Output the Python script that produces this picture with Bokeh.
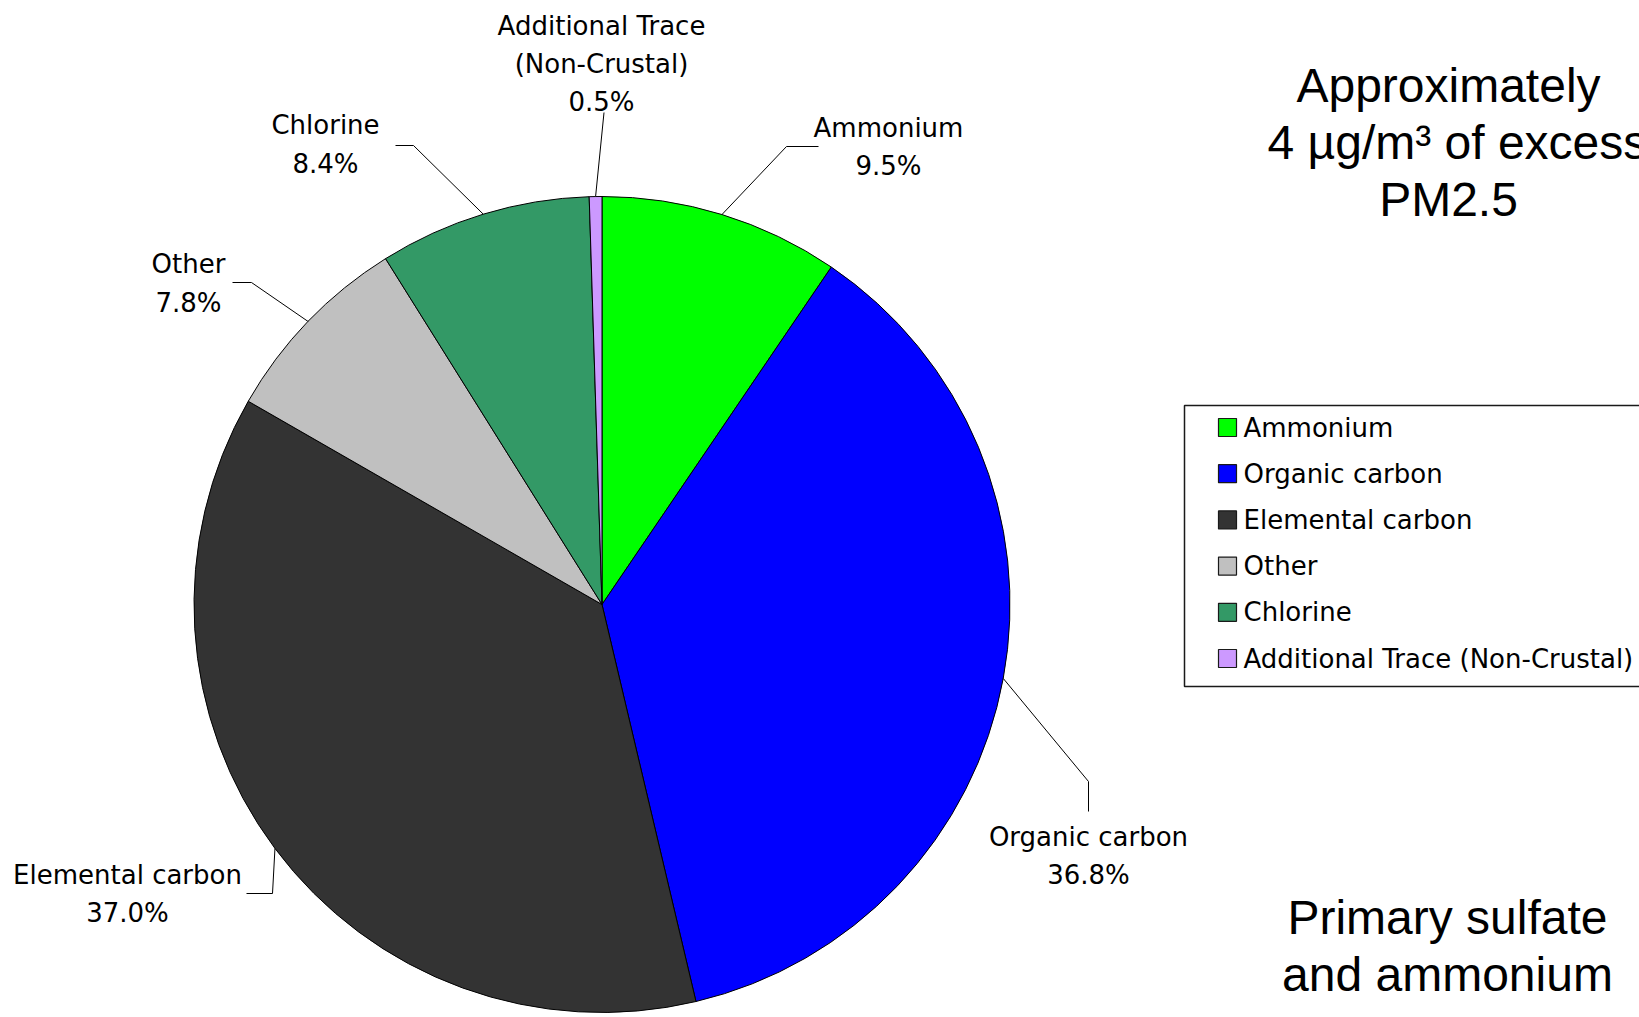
import math

from bokeh.core.properties import value
from bokeh.embed import file_html
from bokeh.models import Range1d
from bokeh.plotting import figure
from bokeh.resources import INLINE

# ---- data -------------------------------------------------------------
categories = ["Ammonium", "Organic carbon", "Elemental carbon", "Other",
              "Chlorine", "Additional Trace (Non-Crustal)"]
label_names = [["Ammonium"], ["Organic carbon"], ["Elemental carbon"], ["Other"],
               ["Chlorine"], ["Additional Trace", "(Non-Crustal)"]]
shares = [9.5, 36.8, 37.0, 7.8, 8.4, 0.5]          # percent of excess PM2.5
colors = ["#00FF00", "#0000FF", "#333333", "#C0C0C0", "#339966", "#CC99FF"]

title_lines = ["Approximately", "4 \u00b5g/m\u00b3 of excess", "PM2.5"]
note_lines = ["Primary sulfate", "and ammonium"]

# ---- canvas (1 data unit = 1 px, y measured upward) -------------------
W, H = 1639, 1017
p = figure(width=W, height=H, output_backend="svg", toolbar_location=None,
           x_range=Range1d(0, W), y_range=Range1d(0, H), min_border=0,
           x_axis_location=None, y_axis_location=None, outline_line_color=None,
           background_fill_color="white", border_fill_color="white")
p.grid.visible = False


def Y(px):
    return H - px


LABEL_FONT = value("DejaVu Sans")
BIG_FONT = value("Liberation Sans")

# ---- pie ----------------------------------------------------------------
cx, cy, R = 601.5, Y(604), 408
total = sum(shares)
starts, ends, mids = [], [], []
acc = 0.0
for s in shares:
    a0 = math.pi / 2 - 2 * math.pi * acc / total
    acc += s
    a1 = math.pi / 2 - 2 * math.pi * acc / total
    starts.append(a0)
    ends.append(a1)
    mids.append((a0 + a1) / 2)

p.wedge(x=[cx] * len(shares), y=[cy] * len(shares), radius=R,
        start_angle=starts, end_angle=ends, direction="clock",
        fill_color=colors, line_color="black", line_width=1)

# ---- slice labels with leader lines ------------------------------------
# leader: slice midpoint on the rim -> elbow -> end; text centre x and line centres
layout = [
    dict(elbow=(786, 146), end=(818, 146), tx=888, rows=(127.5, 165.5)),
    dict(elbow=(1088, 781), end=(1088, 811), tx=1088, rows=(836, 874)),
    dict(elbow=(272, 893), end=(246, 893), tx=127, rows=(874, 912)),
    dict(elbow=(251, 282), end=(232, 282), tx=188, rows=(263.5, 302)),
    dict(elbow=(413, 145), end=(395, 145), tx=325, rows=(124.5, 163)),
    dict(elbow=(603.5, 112), end=(603.5, 112), tx=601, rows=(25, 63.5, 101.5)),
]

xs, ys = [], []
tx, ty, tt = [], [], []
for names, s, m, lay in zip(label_names, shares, mids, layout):
    rx, ry = cx + R * math.cos(m), cy + R * math.sin(m)
    xs.append([rx, lay["elbow"][0], lay["end"][0]])
    ys.append([ry, Y(lay["elbow"][1]), Y(lay["end"][1])])
    lines = names + [f"{s:.1f}%"]
    for line, r in zip(lines, lay["rows"]):
        tx.append(lay["tx"])
        ty.append(Y(r))
        tt.append(line)

p.multi_line(xs=xs, ys=ys, line_color="black", line_width=1)
p.text(x=tx, y=ty, text=tt, text_font=LABEL_FONT, text_font_size="26px",
       text_color="black", text_align="center", text_baseline="middle")

# ---- legend box ----------------------------------------------------------
p.quad(left=[1184], right=[1720], top=[Y(405)], bottom=[Y(686)],
       fill_color="white", line_color="#1a1a1a", line_width=1.5)
row0, row_step = 427, 46.2
ly = [Y(row0 + i * row_step) for i in range(len(categories))]
p.rect(x=[1227] * len(categories), y=ly, width=18, height=18,
       fill_color=colors, line_color="#1a1a1a", line_width=1.2)
p.text(x=[1243] * len(categories), y=ly, text=categories, text_font=LABEL_FONT,
       text_font_size="26px", text_color="black", text_align="left",
       text_baseline="middle")

# ---- side notes ----------------------------------------------------------
p.text(x=[1448, 1267, 1448], y=[Y(85), Y(142), Y(199)], text=title_lines,
       text_font=BIG_FONT, text_font_size="48px", text_color="black",
       text_align=["center", "left", "center"], text_baseline="middle")
p.text(x=[1447, 1447], y=[Y(917), Y(974)], text=note_lines,
       text_font=BIG_FONT, text_font_size="48px", text_color="black",
       text_align="center", text_baseline="middle")

with open("out.html", "w") as f:
    f.write(file_html(p, INLINE))
